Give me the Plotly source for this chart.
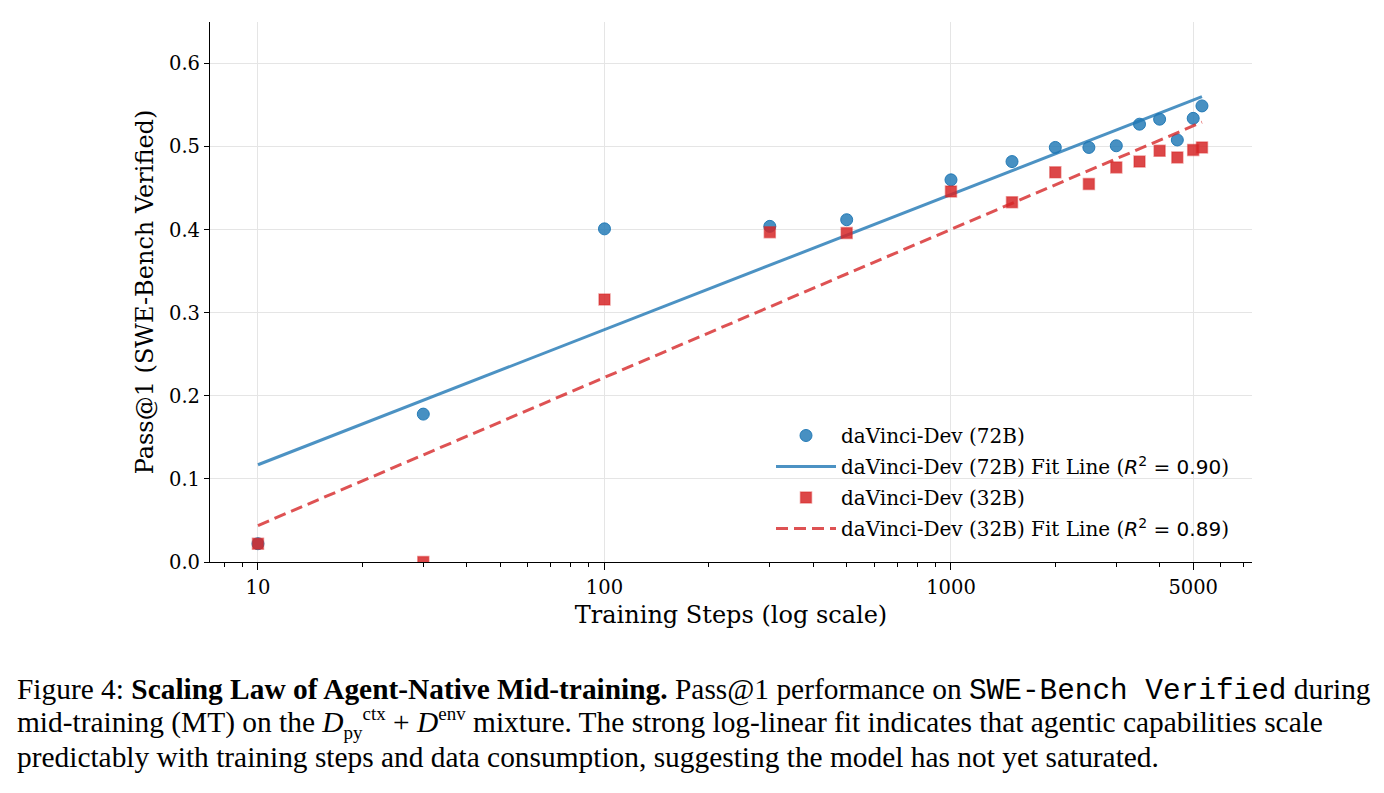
import numpy as np
import plotly.graph_objects as go

# ---- data ----
steps = [10, 30, 100, 300, 500, 1000, 1500, 2000, 2500, 3000, 3500, 4000, 4500, 5000, 5300]
pass_72b = [0.022, 0.178, 0.401, 0.404, 0.412, 0.460, 0.482, 0.499, 0.499, 0.501, 0.527, 0.533, 0.508, 0.534, 0.549]
pass_32b = [0.022, 0.000, 0.316, 0.397, 0.396, 0.446, 0.433, 0.469, 0.455, 0.475, 0.482, 0.495, 0.487, 0.496, 0.499]
x_tick_vals = [10, 100, 1000, 5000]
x_tick_text = ["10", "100", "1000", "5000"]
name_72 = "daVinci-Dev (72B)"
name_32 = "daVinci-Dev (32B)"
r2_72 = "0.90"
r2_32 = "0.89"

# log-linear fits
lx = np.log10(steps)
c72 = np.polyfit(lx, pass_72b, 1)
c32 = np.polyfit(lx, pass_32b, 1)
fit_x = np.array([min(steps), max(steps)])
fit_72 = np.polyval(c72, np.log10(fit_x))
fit_32 = np.polyval(c32, np.log10(fit_x))

BLUE = "rgba(31,119,180,0.82)"
BLUE_EDGE = "rgba(31,119,180,0.95)"
RED = "rgba(214,39,40,0.85)"
RED_EDGE = "rgba(214,39,40,0.45)"
SERIF = "DejaVu Serif"
MATH = "DejaVu Sans"

fig = go.Figure()
fig.add_trace(go.Scatter(
    x=steps, y=pass_72b, mode="markers", name=name_72, legendgroup="a",
    marker=dict(symbol="circle", size=12, color=BLUE, line=dict(color=BLUE_EDGE, width=1)),
))
fig.add_trace(go.Scatter(
    x=fit_x, y=fit_72, mode="lines", legendgroup="b",
    name=f"{name_72} Fit Line (<span style='font-family:{MATH}'><i>R</i><sup>2</sup> = {r2_72}</span>)",
    line=dict(color="rgba(31,119,180,0.8)", width=3),
))
fig.add_trace(go.Scatter(
    x=steps, y=pass_32b, mode="markers", name=name_32, legendgroup="c",
    marker=dict(symbol="square", size=11, color=RED, line=dict(color=RED_EDGE, width=1.5)),
))
fig.add_trace(go.Scatter(
    x=fit_x, y=fit_32, mode="lines", legendgroup="d",
    name=f"{name_32} Fit Line (<span style='font-family:{MATH}'><i>R</i><sup>2</sup> = {r2_32}</span>)",
    line=dict(color="rgba(214,39,40,0.8)", width=3, dash="12px,6px"),
))

minor_vals = [d * 10 ** e for e in range(0, 4) for d in range(2, 10)]

fig.update_xaxes(
    type="log", range=[np.log10(7.27), np.log10(7391)],
    tickvals=x_tick_vals, ticktext=x_tick_text,
    showgrid=True, gridcolor="#e5e5e5", gridwidth=1,
    showline=True, linecolor="black", linewidth=1.2,
    ticks="outside", ticklen=7, tickwidth=1.2, tickcolor="black",
    minor=dict(tickvals=minor_vals, ticks="outside", ticklen=4, tickwidth=1, tickcolor="black", showgrid=False),
    tickfont=dict(family=SERIF, size=19.5, color="black"),
    title=dict(text="Training Steps (log scale)", font=dict(family=SERIF, size=24, color="black"), standoff=8),
    zeroline=False,
)
fig.update_yaxes(
    range=[0, 0.65], dtick=0.1, tick0=0, tickformat=".1f",
    showgrid=True, gridcolor="#e5e5e5", gridwidth=1,
    showline=True, linecolor="black", linewidth=1.2,
    ticks="outside", ticklen=5, tickwidth=1.2, tickcolor="black",
    tickfont=dict(family=SERIF, size=19.5, color="black"),
    title=dict(text="Pass@1 (SWE-Bench Verified)", font=dict(family=SERIF, size=24, color="black"), standoff=8),
    zeroline=False,
)

# caption
CAP = "Liberation Serif"
MONO = "Liberation Mono"
SM = "<span style='font-size:19px'>{}</span>"
cap_lines = [
    f"Figure 4: <b>Scaling Law of Agent-Native Mid-training.</b> Pass@1 performance on "
    f"<span style='font-family:{MONO}'>SWE-Bench Verified</span> during",
    f"mid-training (MT) on the <i>D</i><sub>{SM.format('py')}</sub><sup>{SM.format('ctx')}</sup> + "
    f"<i>D</i><sup>{SM.format('env')}</sup> mixture. "
    "The strong log-linear fit indicates that agentic capabilities scale",
    "predictably with training steps and data consumption, suggesting the model has not yet saturated.",
]
cap_y = [690, 723, 757]
annotations = []
for t, py in zip(cap_lines, cap_y):
    annotations.append(dict(
        text=t, xref="paper", yref="paper", x=(15 - 210) / 1042, y=(562 - py) / 540,
        xanchor="left", yanchor="middle", showarrow=False, align="left",
        font=dict(family=CAP, size=29.4, color="black"),
    ))

fig.update_layout(
    width=1384, height=793,
    margin=dict(l=210, r=132, t=22, b=231),
    paper_bgcolor="white", plot_bgcolor="white",
    showlegend=True,
    legend=dict(
        x=(771 - 210) / 1042, y=(562 - 416) / 540, xanchor="left", yanchor="top",
        bgcolor="rgba(255,255,255,0)", borderwidth=0,
        font=dict(family=SERIF, size=20, color="black"),
        tracegroupgap=2, itemwidth=60,
    ),
    annotations=annotations,
)

fig.write_html("out.html")
